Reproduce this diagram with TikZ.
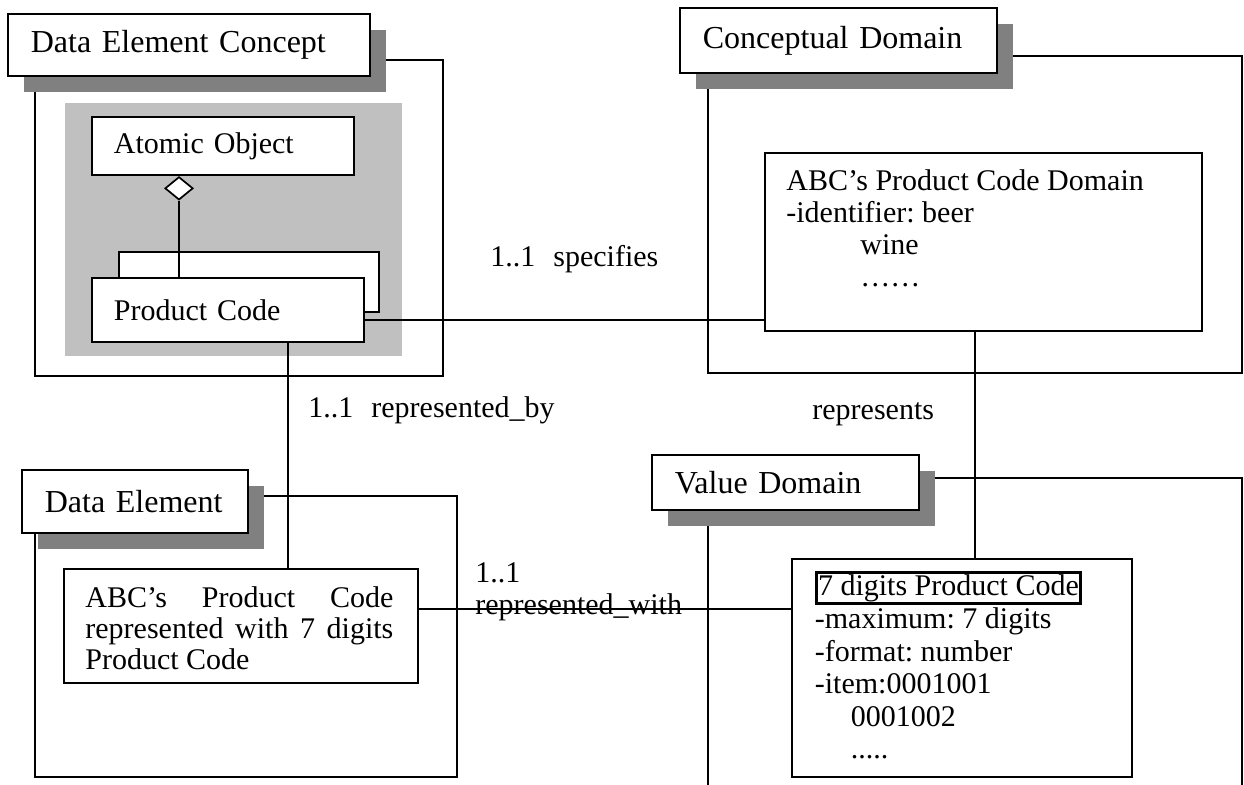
\documentclass[tikz,border=0pt]{standalone}
\usepackage{fontspec}
\setmainfont{Liberation Serif}
\usetikzlibrary{shapes.geometric,shadows}
\definecolor{shadowgray}{HTML}{808080}
\definecolor{panelgray}{HTML}{C0C0C0}
\hyphenpenalty=10000
\hbadness=10000
\frenchspacing

\tikzset{
  groupframe/.style={draw=black, line width=0.85pt},
  titlebox/.style={draw=black, line width=0.85pt, fill=white, anchor=north west,
    inner xsep=11.5pt, inner ysep=0pt, align=left, font=\fontsize{16}{18}\selectfont,
    drop shadow={shadow xshift=8pt, shadow yshift=-8pt, fill=shadowgray, opacity=1}},
  classbox/.style={draw=black, line width=0.85pt, fill=white, anchor=north west,
    inner xsep=11pt, inner ysep=0pt, align=left, font=\fontsize{15}{16}\selectfont},
  plainbox/.style={draw=black, line width=0.85pt, fill=white, anchor=north west, inner sep=0pt},
  txt/.style={anchor=north west, inner sep=0pt, align=left, font=\fontsize{15}{16}\selectfont},
  lbl/.style={anchor=base west, inner sep=0pt, font=\fontsize{15}{16}\selectfont},
  link/.style={draw=black, line width=0.85pt},
}

\begin{document}
\begin{tikzpicture}[x=1pt, y=-1pt]
\useasboundingbox (0,0) rectangle (622,392.5);
% group frames
\draw[groupframe] (17.5,30) rectangle (221.5,188);
\draw[groupframe] (354,28) rectangle (621,186.5);
\draw[groupframe] (17.5,248) rectangle (228.5,388.5);
\draw[groupframe] (354,392.5) |- (621,239) -- (621,392.5);
% class diagram in the concept
\fill[panelgray] (32.5,51.5) rectangle (201,178);
\draw[groupframe, fill=white] (59.5,126) rectangle (189.5,156);
\node[classbox, text width=109pt, minimum height=29pt] (atomic) at (45.5,58) {Atomic Object};
\node[classbox, text width=114pt, minimum height=32pt] (prodcode) at (45.5,138.5) {Product Code};
\node[diamond, draw=black, line width=0.85pt, fill=white, inner sep=0pt,
  minimum width=14pt, minimum height=11.5pt, anchor=north] (agg) at (89.5,88) {};
% titles
\node[titlebox, text width=158pt, minimum height=31pt] (dec) at (3.5,6.5) {Data Element Concept};
\node[titlebox, text width=135.5pt, minimum height=32.5pt] (cd) at (339.5,3.5) {Conceptual Domain};
\node[titlebox, text width=90pt, minimum height=31.5pt] (de) at (10.5,234.5) {Data Element};
\node[titlebox, text width=110.5pt, minimum height=27.5pt] (vd) at (325.5,227) {Value Domain};
% instances
\node[plainbox, minimum width=218.5pt, minimum height=89pt] (cdinst) at (382,76) {};
\node[txt] (cdtext) at (393,84.7) {ABC's Product Code Domain\\-identifier: beer\\\hspace*{37pt}wine\\\hspace*{37pt}……};
\node[plainbox, minimum width=177pt, minimum height=57pt] (deinst) at (31.5,284) {};
\node[txt, align=justify, text width=154pt, font=\fontsize{15}{15.5}\selectfont] (detext) at (42.5,293.2)
  {ABC's Product Code represented with 7 digits Product Code};
\node[plainbox, minimum width=170pt, minimum height=109pt] (vdinst) at (395.5,279) {};
\node[draw=black, line width=1.4pt, anchor=north west, inner xsep=0.8pt, inner ysep=1pt,
  font=\fontsize{15}{16}\selectfont] (vdname) at (407.5,285.5) {7 digits Product Code};
\node[txt, font=\fontsize{15}{16.25}\selectfont] (vdtext) at (407.25,303.7)
  {-maximum: 7 digits\\-format: number\\-item:0001001\\\hspace*{18pt}0001002\\\hspace*{18pt}.....};
% labels
\node[lbl] (spec) at (245,133.5) {1..1\hspace{9pt}specifies};
\node[lbl] (repby) at (154,209) {1..1\hspace{9pt}represented\_by};
\node[lbl] (reps) at (406,210) {represents};
\node[txt, font=\fontsize{15}{16}\selectfont] (repwith) at (237.5,281.2) {1..1\\represented\_with};
% connectors
\draw[link] (agg.south) -- (agg.south |- prodcode.north);
\draw[link] ([yshift=-5pt]prodcode.east) -- ([yshift=-5pt]prodcode.east -| cdinst.west);
\draw[link] ([xshift=30pt]prodcode.south) -- ([xshift=30pt]prodcode.south |- deinst.north);
\draw[link] ([xshift=-4.25pt]cdinst.south) -- ([xshift=-4.25pt]cdinst.south |- vdinst.north);
\draw[link] ([yshift=8.5pt]deinst.east) -- ([yshift=8.5pt]deinst.east -| vdinst.west);
\end{tikzpicture}
\end{document}
